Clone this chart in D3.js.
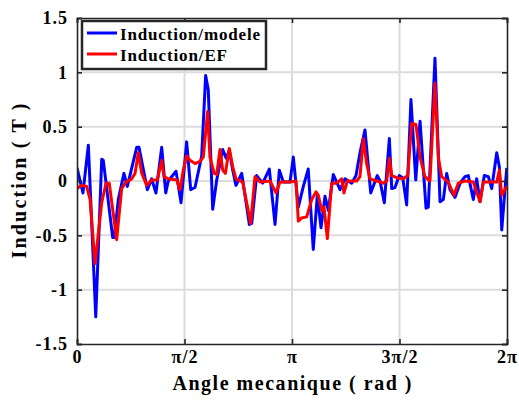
<!DOCTYPE html>
<html>
<head>
<meta charset="utf-8">
<script src="https://cdn.jsdelivr.net/npm/d3@7"></script>
<style>
  html, body { margin: 0; padding: 0; background: #fff; }
  svg { display: block; }
  text { font-family: "Liberation Serif", "Times New Roman", serif; font-weight: bold; fill: #000; }
</style>
</head>
<body>
<svg id="chart" width="519" height="400"></svg>
<script>
// Angle in degrees (0..360 = 0..2π rad), induction in T
const modeleAngle = [0, 5.0, 9.5, 15.7, 20.7, 22.0, 29.9, 31.2, 34.6, 39.3, 42.1, 50.0, 51.9, 58.9, 62.5, 66.1, 70.9, 74.3, 76.4, 82.9, 87.1, 91.8, 95.2, 98.8, 104.4, 107.7, 109.9, 113.6, 117.0, 122.0, 124.9, 127.5, 130.4, 133.1, 137.9, 144.3, 146.3, 150.4, 155.5, 161.0, 165.8, 169.4, 172.7, 178.3, 181.1, 185.3, 189.5, 193.6, 197.8, 201.2, 204.3, 207.6, 210.4, 214.6, 220.2, 224.4, 230.0, 233.6, 236.9, 241.1, 245.9, 251.4, 253.7, 257.3, 261.5, 263.5, 266.2, 269.8, 272.7, 276.0, 279.6, 283.6, 287.2, 292.2, 294.1, 299.7, 303.9, 306.7, 309.5, 312.3, 316.5, 320.7, 324.8, 327.6, 331.8, 334.6, 337.4, 341.0, 344.4, 347.2, 351.4, 353.6, 355.6, 359.8];
const modeleB = [0.12, -0.11, 0.33, -1.25, 0.2, 0.19, -0.52, -0.52, -0.17, 0.07, -0.05, 0.31, 0.31, -0.08, 0.02, -0.11, 0.31, -0.11, 0.0, 0.09, -0.2, 0.36, -0.08, -0.06, 0.23, 0.97, 0.84, -0.26, 0.01, 0.29, 0.21, 0.28, 0.1, -0.04, 0.07, -0.4, -0.39, 0.05, -0.02, 0.11, -0.4, 0.1, -0.01, -0.01, 0.22, -0.24, -0.05, 0.11, -0.63, -0.13, -0.43, -0.14, -0.27, 0.06, -0.08, 0.02, -0.02, 0.05, 0.26, 0.47, -0.11, 0.05, 0.0, -0.2, 0.39, -0.07, -0.06, 0.05, 0.03, -0.22, 0.75, 0.01, 0.55, -0.25, -0.24, 1.13, -0.19, -0.17, 0.07, -0.08, -0.15, -0.02, 0.04, 0.05, -0.17, 0.02, -0.19, 0.05, 0.04, -0.07, 0.26, 0.13, -0.45, 0.12];

const efAngle = [0, 3.9, 8.1, 10.9, 15.1, 20.7, 24.3, 27.0, 33.2, 37.4, 41.0, 45.8, 48.6, 51.3, 54.2, 58.4, 62.5, 67.2, 70.9, 72.8, 76.4, 83.5, 86.2, 89.0, 91.8, 94.6, 98.8, 103.0, 105.7, 109.4, 111.3, 114.9, 117.0, 119.7, 122.0, 124.2, 127.5, 130.4, 133.1, 138.7, 145.4, 149.0, 153.2, 161.6, 166.6, 170.0, 178.3, 183.3, 185.3, 188.1, 192.3, 196.5, 200.1, 202.0, 204.9, 206.8, 209.6, 213.2, 217.4, 221.6, 223.5, 226.3, 234.2, 236.9, 239.7, 242.5, 245.3, 250.9, 256.4, 259.3, 261.5, 263.5, 267.7, 273.2, 276.9, 280.2, 283.8, 287.2, 291.3, 295.5, 299.7, 302.5, 305.3, 310.8, 315.6, 319.2, 324.8, 331.8, 337.4, 340.2, 345.8, 351.4, 353.6, 355.6, 359.8];
const efB = [-0.07, -0.04, -0.05, -0.17, -0.76, -0.2, -0.02, -0.02, -0.54, -0.07, -0.01, 0.02, 0.07, 0.26, 0.07, -0.04, 0.01, 0.01, 0.19, 0.04, 0.02, 0.01, -0.08, 0.1, 0.23, 0.19, 0.16, 0.18, 0.22, 0.64, 0.22, 0.07, 0.06, 0.29, 0.1, 0.07, 0.3, 0.13, 0.02, -0.01, -0.39, 0.04, -0.01, 0.0, -0.11, -0.01, -0.01, 0.0, -0.37, -0.34, -0.33, -0.17, -0.1, -0.13, -0.27, -0.24, -0.53, -0.02, -0.02, 0.02, -0.11, 0.0, 0.0, 0.04, 0.39, 0.16, 0.02, 0.0, -0.02, 0.0, 0.21, 0.05, 0.03, 0.02, 0.05, 0.53, 0.52, 0.22, 0.04, 0.0, 0.9, 0.22, 0.04, -0.01, -0.13, -0.02, 0.0, -0.01, -0.19, -0.01, -0.01, -0.01, 0.1, -0.13, -0.05];

const xTickValues = [0, 90, 180, 270, 360];
const xTickLabels = ["0", "π/2", "π", "3π/2", "2π"];
const yTickValues = [-1.5, -1, -0.5, 0, 0.5, 1, 1.5];
const yTickLabels = ["-1.5", "-1", "-0.5", "0", "0.5", "1", "1.5"];
const seriesNames = ["Induction/modele", "Induction/EF"];
const seriesColors = ["#0000ff", "#ff0000"];

const svg = d3.select("#chart");
const L = 77, R = 507, T = 18, B = 344;

const x = d3.scaleLinear().domain([0, 360]).range([L, R]);
const y = d3.scaleLinear().domain([-1.5, 1.5]).range([B, T]);

// grid
const grid = svg.append("g");
grid.selectAll("line.gx").data(xTickValues.slice(1, -1)).enter().append("line")
  .attr("x1", d => x(d)).attr("x2", d => x(d)).attr("y1", T).attr("y2", B)
  .attr("stroke", "#dcdcdc").attr("stroke-width", 2);
grid.selectAll("line.gy").data(yTickValues.slice(1, -1)).enter().append("line")
  .attr("x1", L).attr("x2", R).attr("y1", d => y(d)).attr("y2", d => y(d))
  .attr("stroke", "#dcdcdc").attr("stroke-width", 2);

// data lines
const series = [
  modeleAngle.map((a, i) => [a, modeleB[i]]),
  efAngle.map((a, i) => [a, efB[i]])
];
const line = d3.line().x(d => x(d[0])).y(d => y(d[1]));
svg.append("defs").append("clipPath").attr("id", "clip")
  .append("rect").attr("x", L).attr("y", T).attr("width", R - L).attr("height", B - T);
series.forEach((s, i) => {
  svg.append("path").datum(s)
    .attr("clip-path", "url(#clip)")
    .attr("d", line)
    .attr("fill", "none")
    .attr("stroke", seriesColors[i])
    .attr("stroke-width", 3)
    .attr("stroke-linejoin", "round");
});

// axes (MATLAB-like box, inward ticks)
const tickLen = 5;
const xAxisB = d3.axisBottom(x).tickValues(xTickValues).tickSize(-tickLen).tickPadding(6)
  .tickFormat((d, i) => xTickLabels[i]);
const xAxisT = d3.axisTop(x).tickValues(xTickValues).tickSize(-tickLen).tickFormat("");
const yAxisL = d3.axisLeft(y).tickValues(yTickValues).tickSize(-tickLen).tickPadding(9)
  .tickFormat((d, i) => yTickLabels[i]);
const yAxisR = d3.axisRight(y).tickValues(yTickValues).tickSize(-tickLen).tickFormat("");

function styleAxis(g) {
  g.select(".domain").attr("stroke", "#262626").attr("stroke-width", 1.6);
  g.selectAll(".tick line").attr("stroke", "#262626").attr("stroke-width", 1.6);
  g.selectAll(".tick text").attr("font-family", "'Liberation Serif', serif")
    .attr("font-weight", "bold").attr("font-size", 18).attr("letter-spacing", 1).attr("fill", "#000");
}
svg.append("g").attr("transform", `translate(0,${B})`).call(xAxisB).call(styleAxis);
svg.append("g").attr("transform", `translate(0,${T})`).call(xAxisT).call(styleAxis);
svg.append("g").attr("transform", `translate(${L},0)`).call(yAxisL).call(styleAxis);
svg.append("g").attr("transform", `translate(${R},0)`).call(yAxisR).call(styleAxis);

// axis labels
svg.append("text").attr("x", (L + R) / 2).attr("y", 390)
  .attr("text-anchor", "middle").attr("font-size", 20)
  .attr("textLength", 239).attr("lengthAdjust", "spacing")
  .text("Angle mecanique ( rad )");
svg.append("text").attr("transform", `translate(26,${(T + B) / 2}) rotate(-90)`)
  .attr("text-anchor", "middle").attr("font-size", 20)
  .attr("textLength", 155).attr("lengthAdjust", "spacing")
  .text("Induction ( T )");

// legend
const lg = svg.append("g");
lg.append("rect").attr("x", 82).attr("y", 21).attr("width", 184).attr("height", 48)
  .attr("fill", "#fff").attr("stroke", "#262626").attr("stroke-width", 2.5);
const legendTextLen = [140, 107];
seriesNames.forEach((n, i) => {
  const cy = 33 + i * 21;
  lg.append("line").attr("x1", 87).attr("x2", 117).attr("y1", cy).attr("y2", cy)
    .attr("stroke", seriesColors[i]).attr("stroke-width", 3);
  lg.append("text").attr("x", 120).attr("y", cy + 6.5).attr("font-size", 17)
    .attr("textLength", legendTextLen[i]).attr("lengthAdjust", "spacing").text(n);
});
</script>
</body>
</html>
